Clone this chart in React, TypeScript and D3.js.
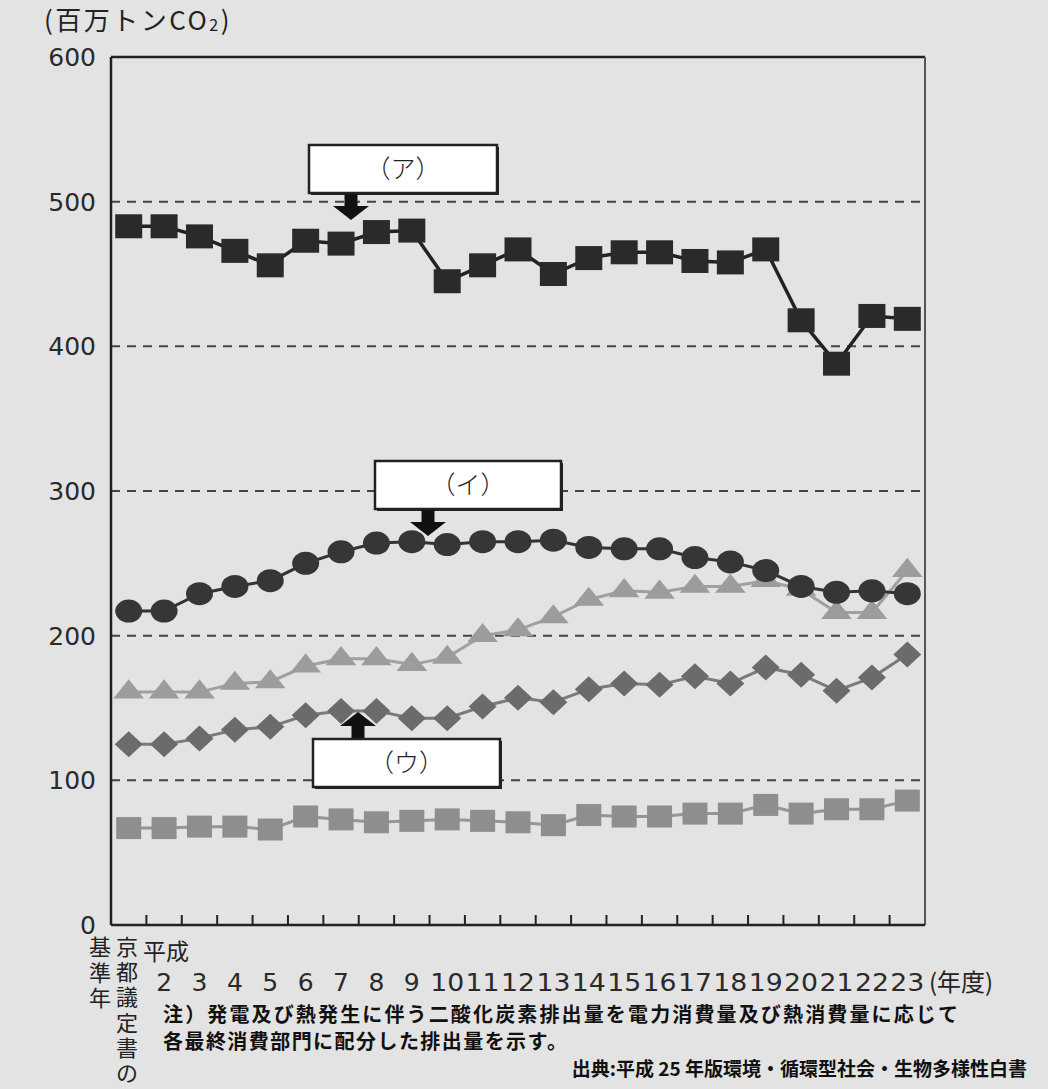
import React from "react";
import * as d3 from "d3";

// ---- data ----
const categories = [
  "基準年", "2", "3", "4", "5", "6", "7", "8", "9", "10", "11", "12",
  "13", "14", "15", "16", "17", "18", "19", "20", "21", "22", "23",
];
// (ア) black squares
const seriesA = [483, 483, 476, 466, 456, 473, 471, 479, 480, 445, 456, 467, 450, 461, 465, 465, 459, 458, 467, 418, 388, 421, 419];
// (イ) dark circles
const seriesI = [217, 217, 229, 234, 238, 250, 258, 264, 265, 263, 265, 265, 266, 261, 260, 260, 254, 251, 245, 234, 230, 231, 229];
// light gray triangles
const seriesT = [161, 161, 161, 167, 168, 179, 184, 184, 180, 185, 200, 204, 213, 225, 231, 230, 234, 234, 238, 232, 216, 216, 245];
// (ウ) gray diamonds
const seriesU = [125, 125, 129, 135, 137, 145, 148, 148, 143, 143, 151, 157, 154, 163, 167, 166, 172, 167, 178, 173, 162, 171, 187];
// gray squares (bottom)
const seriesS = [67, 67, 68, 68, 66, 75, 73, 71, 72, 73, 72, 71, 69, 76, 75, 75, 77, 77, 83, 77, 80, 80, 86];

const yTicks = [0, 100, 200, 300, 400, 500, 600];
const gridValues = [100, 200, 300, 400, 500];

const FONT = "'Noto Sans CJK JP', 'Noto Sans', sans-serif";
const NUMFONT = "'DejaVu Sans', sans-serif";

export default function App() {
  const W = 1048, H = 1089;
  const left = 111, right = 925, top = 57, bottom = 925;
  const x = d3.scaleBand<string>().domain(categories).range([left, right]).padding(0);
  const y = d3.scaleLinear().domain([0, 600]).range([bottom, top]);
  const cx = (i: number) => (x(categories[i]) as number) + x.bandwidth() / 2;

  const line = (vals: number[]) =>
    d3.line<number>().x((_, i) => cx(i)).y((v) => y(v))(vals) as string;

  const tri = d3.symbol().type(d3.symbolTriangle).size(260)();

  const boxes = [
    { label: "（ア）", x: 309, y: 145, w: 188, h: 48, ax: 351, dir: "down" },
    { label: "（イ）", x: 375, y: 461, w: 186, h: 48, ax: 428, dir: "down" },
    { label: "（ウ）", x: 313, y: 739, w: 187, h: 48, ax: 358, dir: "up" },
  ];

  const arrowPath = (ax: number, yBase: number, dir: string) => {
    const s = 6.5, hw = 18, len = 26, headLen = 14;
    if (dir === "down") {
      const tip = yBase + len;
      return `M${ax - s},${yBase} L${ax + s},${yBase} L${ax + s},${tip - headLen} L${ax + hw},${tip - headLen} L${ax},${tip} L${ax - hw},${tip - headLen} L${ax - s},${tip - headLen} Z`;
    } else {
      const tip = yBase - len;
      return `M${ax - s},${yBase} L${ax + s},${yBase} L${ax + s},${tip + headLen} L${ax + hw},${tip + headLen} L${ax},${tip} L${ax - hw},${tip + headLen} L${ax - s},${tip + headLen} Z`;
    }
  };

  const col1 = ["基", "準", "年"];
  const col2 = ["京", "都", "議", "定", "書", "の"];

  return (
    <div style={{ position: "absolute", left: 0, top: 0 }}>
      <svg width={W} height={H} style={{ display: "block" }} fontFamily={FONT}>
        <rect x={0} y={0} width={W} height={H} fill="#e3e3e3" />

        {/* title */}
        <text x={44} y={30} fontSize={26} fill="#222" letterSpacing={2.5}>
          (百万トンCO<tspan fontSize={16} dy={1}>2</tspan><tspan dy={-1}>)</tspan>
        </text>

        {/* y tick labels */}
        {yTicks.map((t) => (
          <text key={t} x={96} y={y(t) + 9} fontSize={25} fontFamily={NUMFONT} textAnchor="end" fill="#2a2a2a">{t}</text>
        ))}

        {/* grid */}
        {gridValues.map((g) => (
          <line key={g} x1={left} x2={right} y1={y(g)} y2={y(g)} stroke="#444" strokeWidth={2} strokeDasharray="9,7" />
        ))}

        {/* frame */}
        <line x1={left} x2={right} y1={top} y2={top} stroke="#222" strokeWidth={2.5} />
        <line x1={right} x2={right} y1={top} y2={bottom} stroke="#555" strokeWidth={2} />
        <line x1={left} x2={left} y1={top} y2={bottom} stroke="#222" strokeWidth={2.5} />
        <line x1={left} x2={right} y1={bottom} y2={bottom} stroke="#222" strokeWidth={2.5} />
        {categories.slice(1).map((c) => (
          <line key={c} x1={x(c) as number} x2={x(c) as number} y1={bottom} y2={bottom - 10} stroke="#222" strokeWidth={2} />
        ))}

        {/* bottom gray squares */}
        <path d={line(seriesS)} fill="none" stroke="#959595" strokeWidth={3} />
        {seriesS.map((v, i) => (
          <rect key={i} x={cx(i) - 12.5} y={y(v) - 11} width={25} height={22} fill="#8e8e8e" />
        ))}

        {/* diamonds */}
        <path d={line(seriesU)} fill="none" stroke="#7a7a7a" strokeWidth={3} />
        {seriesU.map((v, i) => {
          const px = cx(i), py = y(v);
          return <path key={i} d={`M${px},${py - 13} L${px + 14},${py} L${px},${py + 13} L${px - 14},${py} Z`} fill="#6b6b6b" />;
        })}

        {/* triangles */}
        <path d={line(seriesT)} fill="none" stroke="#a0a0a0" strokeWidth={3} />
        {seriesT.map((v, i) => (
          <path key={i} d={tri as string} transform={`translate(${cx(i)},${y(v)}) scale(1.25,0.9)`} fill="#9c9c9c" />
        ))}

        {/* circles */}
        <path d={line(seriesI)} fill="none" stroke="#333" strokeWidth={3} />
        {seriesI.map((v, i) => (
          <ellipse key={i} cx={cx(i)} cy={y(v)} rx={13.5} ry={11.5} fill="#363636" />
        ))}

        {/* black squares */}
        <path d={line(seriesA)} fill="none" stroke="#222" strokeWidth={3.5} />
        {seriesA.map((v, i) => (
          <rect key={i} x={cx(i) - 13.5} y={y(v) - 12} width={27} height={24} fill="#2a2a2a" />
        ))}

        {/* annotation boxes */}
        {boxes.map((b) => (
          <g key={b.label}>
            <rect x={b.x + 2} y={b.y + 2} width={b.w} height={b.h} fill="#222" />
            <rect x={b.x} y={b.y} width={b.w} height={b.h} fill="#fff" stroke="#222" strokeWidth={2.5} />
            <text x={b.x + b.w / 2} y={b.y + b.h / 2 + 9} fontSize={25} fontWeight={300} textAnchor="middle" fill="#222">{b.label}</text>
            <path d={arrowPath(b.ax, b.dir === "down" ? b.y + b.h + 1 : b.y - 1, b.dir)} fill="#111" />
          </g>
        ))}

        {/* x labels */}
        {col1.map((c, i) => (
          <text key={"a" + i} x={100} y={955 + i * 25.5} fontSize={22} textAnchor="middle" fill="#222">{c}</text>
        ))}
        {col2.map((c, i) => (
          <text key={"b" + i} x={127} y={955 + i * 25.2} fontSize={22} textAnchor="middle" fill="#222">{c}</text>
        ))}
        <text x={143} y={960} fontSize={23} fill="#222">平成</text>
        {categories.slice(1).map((c, i) => (
          <text
            key={c}
            x={cx(i + 1)}
            y={991}
            fontSize={25}
            fontFamily={NUMFONT}
            textAnchor="middle"
            fill="#2a2a2a"
            {...(c.length > 1 ? { textLength: 34, lengthAdjust: "spacingAndGlyphs" } : {})}
          >
            {c}
          </text>
        ))}
        <text x={929} y={991} fontSize={24} fill="#222">(年度)</text>

        {/* notes */}
        <text x={163} y={1022} fontSize={20} fontWeight={700} fill="#111" textLength={795} lengthAdjust="spacing">
          注）発電及び熱発生に伴う二酸化炭素排出量を電力消費量及び熱消費量に応じて
        </text>
        <text x={163} y={1049} fontSize={20} fontWeight={700} fill="#111" textLength={404} lengthAdjust="spacing">
          各最終消費部門に配分した排出量を示す。
        </text>
        <text x={1027} y={1076} fontSize={19} fontWeight={700} fill="#111" textAnchor="end">
          出典:平成 25 年版環境・循環型社会・生物多様性白書
        </text>
      </svg>
    </div>
  );
}
